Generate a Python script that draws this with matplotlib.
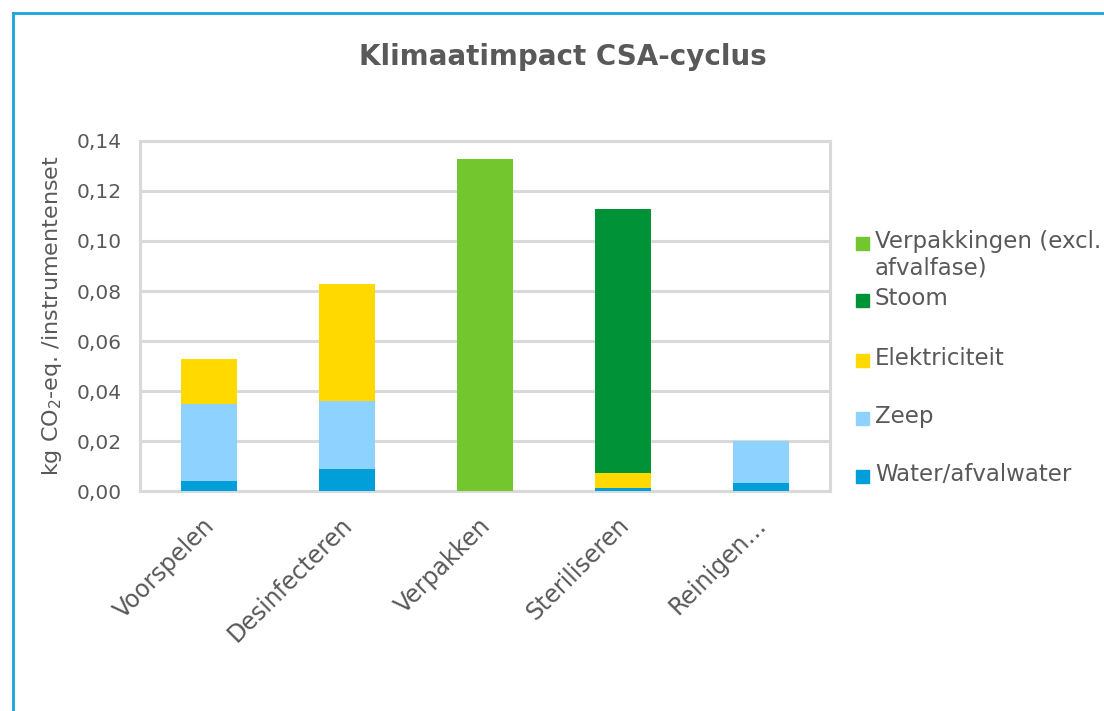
import numpy as np
import matplotlib.pyplot as plt
import matplotlib.transforms as mtransforms
from matplotlib.patches import Rectangle
from matplotlib.lines import Line2D

# stages of the CSA cycle and the impact per source (kg CO2-eq. per instrument set)
stages = ['Voorspelen', 'Desinfecteren', 'Verpakken', 'Steriliseren', 'Reinigen…']
water = [0.004, 0.009, 0.0, 0.0012, 0.0032]
zeep = [0.031, 0.027, 0.0, 0.0, 0.0168]
elektriciteit = [0.018, 0.047, 0.0, 0.006, 0.0]
stoom = [0.0, 0.0, 0.0, 0.1056, 0.0]
verpakkingen = [0.0, 0.0, 0.1326, 0.0, 0.0]

series = [
    ('Water/afvalwater', water, '#009FDA'),
    ('Zeep', zeep, '#8ED3FF'),
    ('Elektriciteit', elektriciteit, '#FFD900'),
    ('Stoom', stoom, '#009236'),
    ('Verpakkingen (excl.\nafvalfase)', verpakkingen, '#74C62F'),
]

txt = '#595959'
grid = '#D9D9D9'

fig = plt.figure(figsize=(11.04, 7.11), dpi=100)
ax = fig.add_axes([0.1268, 0.3094, 0.625, 0.4923])

x = np.arange(len(stages))
bottom = np.zeros(len(stages))
for name, vals, col in series:
    vals = np.array(vals)
    ax.bar(x, vals, 0.41, bottom=bottom, color=col, zorder=3)
    bottom += vals

ax.set_ylim(0, 0.14)
ax.set_xlim(-0.5, len(stages) - 0.5)
ax.set_yticks(np.arange(0, 0.141, 0.02))
ax.set_yticklabels([f'{v:.2f}'.replace('.', ',') for v in np.arange(0, 0.141, 0.02)])
ax.set_xticks(x)
ax.set_xticklabels(stages, rotation=45, ha='right', va='center',
                   rotation_mode='anchor', fontsize=17)
ax.tick_params(axis='both', length=0, colors=txt)
ax.tick_params(axis='y', labelsize=14.5, pad=13)
ax.tick_params(axis='x', pad=22)
shift = mtransforms.ScaledTranslation(2 / 100, 0, fig.dpi_scale_trans)
for lab in ax.get_xticklabels():
    lab.set_transform(lab.get_transform() + shift)
ax.grid(axis='y', color=grid, linewidth=2.2, zorder=0)
for s in ax.spines.values():
    s.set_color(grid)
    s.set_linewidth(2.2)

ax.set_ylabel('kg CO$_2$-eq. /instrumentenset', fontsize=16, color=txt, labelpad=9)

fig.suptitle('Klimaatimpact CSA-cyclus', fontsize=20, fontweight='bold',
             color=txt, x=0.51, y=0.94)

# legend drawn by hand, in reverse stacking order
leg_y = [243, 300, 360, 418, 476]
for (name, vals, col), yy in zip(series[::-1], leg_y):
    fy = 1 - yy / 711
    fig.patches.append(Rectangle((856 / 1104, fy - 6.5 / 711), 13 / 1104, 13 / 711,
                                 transform=fig.transFigure, color=col))
    fig.text(875 / 1104, fy + 13 / 711, name, fontsize=16.5, color=txt,
             va='top', ha='left', linespacing=1.2)

# blue frame on the left and top
fig.add_artist(Line2D([13 / 1104, 13 / 1104], [0, 1 - 13 / 711],
                      transform=fig.transFigure, color='#1BA3DD', linewidth=2))
fig.add_artist(Line2D([13 / 1104, 1], [1 - 13 / 711, 1 - 13 / 711],
                      transform=fig.transFigure, color='#1BA3DD', linewidth=2))

fig.savefig('out.png', dpi=100)
